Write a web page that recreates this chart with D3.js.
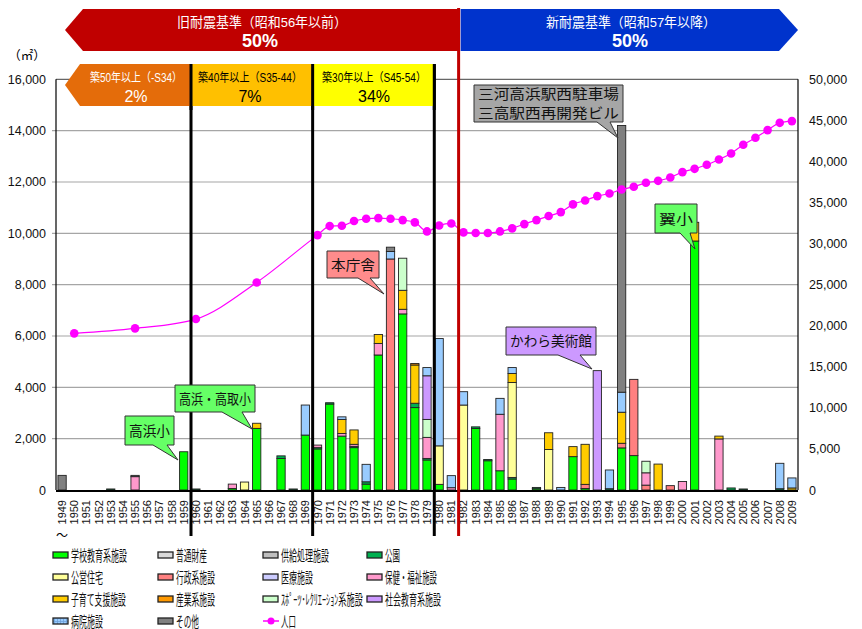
<!DOCTYPE html>
<html>
<head>
<meta charset="utf-8">
<script src="https://cdn.jsdelivr.net/npm/d3@7"></script>
<style>
body { margin: 0; background: #fff; }
svg { font-family: "Liberation Sans", "Noto Sans CJK JP", sans-serif; }
</style>
</head>
<body>
<script>
// 年度 (1949〜2009)
var years = d3.range(1949, 2010);

// 施設分類ごとの延床面積 (㎡), 年度: 値
var school   = {1959:1490, 1963:60, 1965:2400, 1967:1230, 1969:2140, 1970:1600, 1971:3350, 1972:2100, 1973:1650, 1974:230, 1975:5260, 1977:6860, 1978:3210, 1979:1170, 1980:220, 1983:2400, 1984:1140, 1985:750, 1986:430, 1988:50, 1991:1300, 1992:60, 1995:1640, 1996:1340, 2001:9700};
var futsu    = {};
var kyokyu   = {};
var koen     = {1953:40, 1960:40, 1967:100, 1968:40, 1970:50, 1971:50, 1973:50, 1974:90, 1978:170, 1979:60, 1983:60, 1984:50, 1986:60, 1988:50, 1994:50, 2004:80, 2005:40, 2008:50};
var jutaku   = {1964:310, 1980:1500, 1982:3310, 1986:3700, 1989:1580};
var gyosei   = {1976:9000, 1992:160, 1995:180, 1996:2970, 1997:190, 1999:170};
var iryo     = {};
var hoken    = {1955:520, 1963:170, 1970:100, 1972:100, 1973:80, 1975:450, 1977:180, 1979:820, 1981:90, 1985:2200, 1997:480, 2000:330, 2003:1990};
var kosodate = {1965:200, 1972:550, 1973:560, 1975:350, 1977:740, 1978:1490, 1986:350, 1989:650, 1991:390, 1992:1560, 1995:1210, 1998:1010, 2001:730, 2003:110, 2009:80};
var sangyo   = {1978:60};
var sports   = {1977:1250, 1979:700, 1997:450};
var shakai   = {1979:1700, 1993:4650};
var byoin    = {1969:1170, 1972:100, 1974:680, 1976:290, 1979:320, 1980:4180, 1981:470, 1982:520, 1985:620, 1986:230, 1990:100, 1994:730, 1995:780, 2008:990, 2009:390};
var sonota   = {1949:570, 1955:50, 1976:170, 1995:10390};

// 人口 (人)
var popYears = [1950, 1955, 1960, 1965].concat(d3.range(1970, 2010));
var popValues = [19070, 19680, 20810, 25270,
  31030, 32130, 32170, 32740, 33020, 33100, 33020, 32860, 32580, 31480,
  32210, 32450, 31360, 31280, 31280, 31480, 31850, 32370, 32860, 33350,
  33830, 34770, 35250, 35780, 36100, 36590, 36920, 37400, 37640, 38050,
  38700, 39100, 39590, 40240, 40970, 42030, 42880, 43810, 44700, 44910];

var leftTicks = [0, 2000, 4000, 6000, 8000, 10000, 12000, 14000, 16000];
var rightTicks = [0, 5000, 10000, 15000, 20000, 25000, 30000, 35000, 40000, 45000, 50000];

var series = [
  {key: "学校教育系施設", data: school, color: "#00FF00", w: 56},
  {key: "普通財産", data: futsu, color: "#D9D9D9", w: 31},
  {key: "供給処理施設", data: kyokyu, color: "#BFBFBF", w: 48},
  {key: "公園", data: koen, color: "#00B050", w: 15},
  {key: "公営住宅", data: jutaku, color: "#FFFF99", w: 32},
  {key: "行政系施設", data: gyosei, color: "#FF8080", w: 39},
  {key: "医療施設", data: iryo, color: "#CCCCFF", w: 32},
  {key: "保健・福祉施設", data: hoken, color: "#FF99CC", w: 52},
  {key: "子育て支援施設", data: kosodate, color: "#FFCC00", w: 55},
  {key: "産業系施設", data: sangyo, color: "#FF9900", w: 39},
  {key: "ｽﾎﾟｰﾂ･ﾚｸﾘｴｰｼｮﾝ系施設", data: sports, color: "#CCFFCC", w: 82},
  {key: "社会教育系施設", data: shakai, color: "#CC99FF", w: 56},
  {key: "病院施設", data: byoin, color: "#99CCFF", w: 32},
  {key: "その他", data: sonota, color: "#808080", w: 23}
];

var W = 862, H = 629;
var pL = 56, pR = 798, pT = 79.3, pB = 490;

var svg = d3.select("body").append("svg").attr("width", W).attr("height", H);

// 横幅を合わせるため横方向だけ縮める
function fitText(sel, px, py, w) {
  var len = sel.node().getComputedTextLength();
  var sx = len > 0 ? w / len : 1;
  sel.attr("x", 0).attr("y", 0)
    .attr("transform", "translate(" + px + "," + py + ") scale(" + sx + ",1)");
  return sel;
}

var defs = svg.append("defs");
var pat = defs.append("pattern").attr("id", "hosp").attr("patternUnits", "userSpaceOnUse")
  .attr("width", 3).attr("height", 3);
pat.append("rect").attr("width", 3).attr("height", 3).attr("fill", "#99CCFF");
pat.append("path").attr("d", "M0,0.5H3M0.5,0V3").attr("stroke", "#6F9FD8").attr("stroke-width", 0.8);

var x = d3.scaleBand().domain(years).range([pL, pR]).paddingInner(0.32).paddingOuter(0.16);
var y = d3.scaleLinear().domain([0, 16000]).range([pB, pT]);
var y2 = d3.scaleLinear().domain([0, 50000]).range([pB, pT]);

// table for stack
var table = years.map(function (yr) {
  var row = {year: yr};
  series.forEach(function (s) { row[s.key] = s.data[yr] || 0; });
  return row;
});
var stack = d3.stack().keys(series.map(function (s) { return s.key; }))(table);

// gridlines
svg.append("g").selectAll("line").data(leftTicks.slice(1)).enter().append("line")
  .attr("x1", function (d) { return d === 16000 ? pL : pL - 4; }).attr("x2", pR)
  .attr("y1", function (d) { return y(d); }).attr("y2", function (d) { return y(d); })
  .attr("stroke", function (d) { return d === 16000 ? "#666" : "#A6A6A6"; })
  .attr("stroke-width", 1.2);

// left axis labels
svg.append("g").selectAll("text").data(leftTicks).enter().append("text")
  .attr("x", 46).attr("y", function (d) { return y(d) + 4.5; })
  .attr("text-anchor", "end").attr("font-size", 12.5).attr("fill", "#111")
  .text(function (d) { return d3.format(",")(d); });

// right axis labels
svg.append("g").selectAll("text").data(rightTicks).enter().append("text")
  .attr("x", 809).attr("y", function (d) { return y2(d) + 4.5; })
  .attr("text-anchor", "start").attr("font-size", 12.5).attr("fill", "#111")
  .text(function (d) { return d3.format(",")(d); });

svg.append("text").attr("x", 27).attr("y", 60).attr("text-anchor", "middle")
  .attr("font-size", 12.5).text("（㎡）");

// bars
var bars = svg.append("g");
stack.forEach(function (layer, i) {
  bars.append("g").attr("fill", series[i].color).selectAll("rect")
    .data(layer.filter(function (d) { return d[1] > d[0]; })).enter().append("rect")
    .attr("x", function (d) { return x(d.data.year); })
    .attr("width", x.bandwidth())
    .attr("y", function (d) { return y(d[1]); })
    .attr("height", function (d) { return y(d[0]) - y(d[1]); })
    .attr("stroke", "#222").attr("stroke-width", 0.9);
});

// axes lines
svg.append("line").attr("x1", pL).attr("x2", pL).attr("y1", pT).attr("y2", pB)
  .attr("stroke", "#000").attr("stroke-width", 1.2);
svg.append("line").attr("x1", pR).attr("x2", pR).attr("y1", pT).attr("y2", pB)
  .attr("stroke", "#000").attr("stroke-width", 1.2);
svg.append("line").attr("x1", pL).attr("x2", pR).attr("y1", pB + 1).attr("y2", pB + 1)
  .attr("stroke", "#000").attr("stroke-width", 2);

// x labels
svg.append("g").selectAll("text").data(years).enter().append("text")
  .attr("transform", function (d) {
    return "translate(" + (x(d) + x.bandwidth() / 2 + 4) + ",500) rotate(-90)";
  })
  .attr("text-anchor", "end").attr("font-size", 11).attr("fill", "#111")
  .text(function (d) { return d; });
svg.append("text").attr("x", x(1949) + x.bandwidth() / 2).attr("y", 540)
  .attr("text-anchor", "middle").attr("font-size", 12).text("〜");

// population line
var popData = popYears.map(function (yr, i) { return {year: yr, v: popValues[i]}; });
var line = d3.line()
  .x(function (d) { return x(d.year) + x.bandwidth() / 2; })
  .y(function (d) { return y2(d.v); })
  .curve(d3.curveMonotoneX);
svg.append("path").datum(popData).attr("d", line)
  .attr("fill", "none").attr("stroke", "#FF00FF").attr("stroke-width", 1.2);
svg.append("g").selectAll("circle").data(popData).enter().append("circle")
  .attr("cx", function (d) { return x(d.year) + x.bandwidth() / 2; })
  .attr("cy", function (d) { return y2(d.v); })
  .attr("r", 4.3).attr("fill", "#FF00FF");

// boundary lines
function boundary(yr) { return x(yr) - x.step() * 0.16 + 1.2; }
[1960, 1970, 1980].forEach(function (yr) {
  svg.append("line").attr("x1", boundary(yr)).attr("x2", boundary(yr))
    .attr("y1", 64).attr("y2", 536).attr("stroke", "#000").attr("stroke-width", 3);
});

// top banners
var xr = boundary(1982);
svg.append("path").attr("d", "M65,30 L83,9 H" + xr + " V51 H83 Z").attr("fill", "#C00000");
svg.append("path").attr("d", "M" + (xr + 2) + ",9 H779 L798,30 L779,51 H" + (xr + 2) + " Z").attr("fill", "#0033CC");
svg.append("line").attr("x1", xr).attr("x2", xr).attr("y1", 8).attr("y2", 536)
  .attr("stroke", "#C00000").attr("stroke-width", 3);

fitText(svg.append("text").attr("text-anchor", "middle")
  .attr("font-size", 13.5).attr("fill", "#fff").text("旧耐震基準（昭和56年以前）"), 262, 27, 170);
svg.append("text").attr("x", 260).attr("y", 47).attr("text-anchor", "middle")
  .attr("font-size", 18).attr("font-weight", "bold").attr("fill", "#fff").text("50%");
fitText(svg.append("text").attr("text-anchor", "middle")
  .attr("font-size", 13.5).attr("fill", "#fff").text("新耐震基準（昭和57年以降）"), 631, 27, 170);
svg.append("text").attr("x", 630).attr("y", 47).attr("text-anchor", "middle")
  .attr("font-size", 18).attr("font-weight", "bold").attr("fill", "#fff").text("50%");

var b60 = boundary(1960), b70 = boundary(1970), b80 = boundary(1980);
svg.append("path").attr("d", "M65,85 L80,64 H" + b60 + " V106 H80 Z").attr("fill", "#E46C0A");
svg.append("rect").attr("x", b60).attr("y", 64).attr("width", b70 - b60).attr("height", 42).attr("fill", "#FFC000");
svg.append("rect").attr("x", b70).attr("y", 64).attr("width", b80 - b70).attr("height", 42).attr("fill", "#FFFF00");
[1960, 1970, 1980].forEach(function (yr) {
  svg.append("line").attr("x1", boundary(yr)).attr("x2", boundary(yr))
    .attr("y1", 64).attr("y2", 110).attr("stroke", "#000").attr("stroke-width", 3);
});

var bands = [
  {cx: 136, w: 92, t: "築50年以上（-S34）", p: "2%", c: "#fff"},
  {cx: 250, w: 104, t: "築40年以上（S35-44）", p: "7%", c: "#000"},
  {cx: 374, w: 104, t: "築30年以上（S45-54）", p: "34%", c: "#000"}
];
bands.forEach(function (b) {
  fitText(svg.append("text").attr("text-anchor", "middle")
    .attr("font-size", 12).attr("fill", b.c).text(b.t), b.cx, 82, b.w);
  svg.append("text").attr("x", b.cx).attr("y", 101.5).attr("text-anchor", "middle")
    .attr("font-size", 16).attr("fill", b.c).text(b.p);
});

// callouts
var callouts = [
  {x0: 125, y0: 416, x1: 174, y1: 445, b0: 153, b1: 167, tx: 178, ty: 460, fill: "#66FF66", lines: ["高浜小"]},
  {x0: 175, y0: 385, x1: 255, y1: 412, b0: 222, b1: 242, tx: 252, ty: 429, fill: "#66FF66", lines: ["高浜・高取小"]},
  {x0: 327, y0: 251, x1: 379, y1: 278, b0: 358, b1: 370, tx: 384, ty: 294, fill: "#FF8C8C", lines: ["本庁舎"]},
  {x0: 474, y0: 85, x1: 623, y1: 122, b0: 597, b1: 610, tx: 618, ty: 138, fill: "#A6A6A6", lines: ["三河高浜駅西駐車場", "三高駅西再開発ビル"]},
  {x0: 506, y0: 327, x1: 596, y1: 355, b0: 558, b1: 580, tx: 592, ty: 369, fill: "#CC99FF", lines: ["かわら美術館"]},
  {x0: 655, y0: 204, x1: 697, y1: 233, b0: 680, b1: 690, tx: 695, ty: 249, fill: "#66FF66", lines: ["翼小"]}
];
callouts.forEach(function (c) {
  svg.append("path")
    .attr("d", "M" + c.x0 + "," + c.y0 + " H" + c.x1 + " V" + c.y1 + " H" + c.b1 +
      " L" + c.tx + "," + c.ty + " L" + c.b0 + "," + c.y1 + " H" + c.x0 + " Z")
    .attr("fill", c.fill).attr("stroke", "#333").attr("stroke-width", 1);
  var cx = (c.x0 + c.x1) / 2, h = c.y1 - c.y0, n = c.lines.length;
  c.lines.forEach(function (t, i) {
    fitText(svg.append("text").attr("text-anchor", "middle")
      .attr("font-size", 14).attr("fill", "#111").text(t),
      cx, c.y0 + h * (i + 0.5) / n + 5, c.x1 - c.x0 - 8);
  });
});

// legend
var legItems = series.concat([{key: "人口", line: true, w: 15}]);
var colX = [53, 158, 263, 367];
var rowY = [555, 577, 599, 621];
var leg = svg.append("g");
legItems.forEach(function (s, i) {
  var cx = colX[i % 4], cy = rowY[Math.floor(i / 4)];
  if (s.line) {
    leg.append("line").attr("x1", cx).attr("x2", cx + 16).attr("y1", cy).attr("y2", cy)
      .attr("stroke", "#FF00FF").attr("stroke-width", 1.5);
    leg.append("circle").attr("cx", cx + 8).attr("cy", cy).attr("r", 3.5).attr("fill", "#FF00FF");
  } else {
    leg.append("rect").attr("x", cx).attr("y", cy - 3).attr("width", 15).attr("height", 6)
      .attr("fill", s.key === "病院施設" ? "url(#hosp)" : s.color)
      .attr("stroke", "#222").attr("stroke-width", 1.3);
  }
  fitText(leg.append("text").attr("font-size", 14.5).attr("fill", "#111").text(s.key),
    cx + 18, cy + 6, s.w);
});
</script>
</body>
</html>
